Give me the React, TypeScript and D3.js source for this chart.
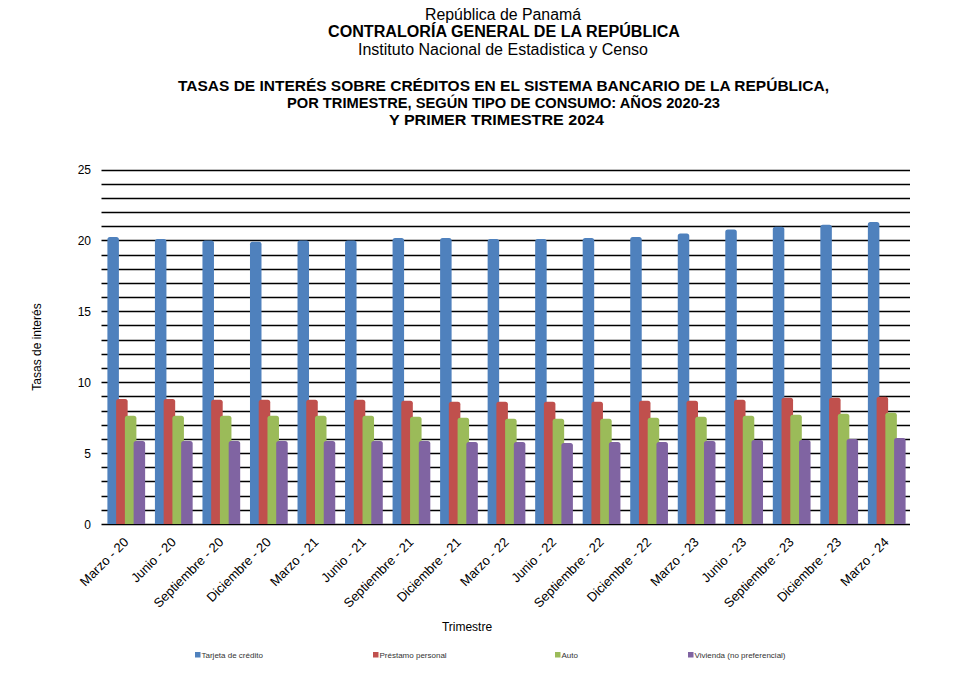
import * as d3 from 'd3';

const categories = [
  'Marzo - 20', 'Junio - 20', 'Septiembre - 20', 'Diciembre - 20',
  'Marzo - 21', 'Junio - 21', 'Septiembre - 21', 'Diciembre - 21',
  'Marzo - 22', 'Junio - 22', 'Septiembre - 22', 'Diciembre - 22',
  'Marzo - 23', 'Junio - 23', 'Septiembre - 23', 'Diciembre - 23',
  'Marzo - 24',
];

const tarjeta = [20.24, 20.1, 20.0, 19.9, 20.0, 20.0, 20.17, 20.17, 20.1, 20.1, 20.17, 20.24, 20.48, 20.76, 20.97, 21.1, 21.3];
const prestamo = [8.82, 8.82, 8.76, 8.76, 8.76, 8.76, 8.69, 8.62, 8.62, 8.62, 8.62, 8.69, 8.69, 8.76, 8.9, 8.9, 8.97];
const auto = [7.63, 7.63, 7.63, 7.63, 7.63, 7.63, 7.56, 7.49, 7.42, 7.42, 7.42, 7.49, 7.56, 7.63, 7.7, 7.77, 7.84];
const vivienda = [5.86, 5.86, 5.86, 5.86, 5.86, 5.86, 5.86, 5.79, 5.79, 5.72, 5.79, 5.79, 5.86, 5.93, 5.93, 6.0, 6.07];

const seriesNames = ['Tarjeta de crédito', 'Préstamo personal', 'Auto', 'Vivienda (no preferencial)'];
const seriesColors = ['#4F81BD', '#C0504D', '#9BBB59', '#8064A2'];
const seriesValues = [tarjeta, prestamo, auto, vivienda];

const yTicks = [0, 5, 10, 15, 20, 25];
const legendX = [195, 373, 555, 688];

const W = 956;
const H = 673;
const FONT = '"Liberation Sans", Arial, sans-serif';

// top-rounded bar
function barPath(x: number, y: number, w: number, y0: number, r: number) {
  return `M${x},${y0}V${y + r}Q${x},${y} ${x + r},${y}H${x + w - r}Q${x + w},${y} ${x + w},${y + r}V${y0}Z`;
}

export default function App() {
  const x = d3.scaleBand<string>()
    .domain(categories)
    .range([102.5, 910.5])
    .paddingInner(0.206)
    .paddingOuter(0.103);

  const y = d3.scaleLinear().domain([0, 25]).range([524, 169.5]);

  const bw = x.bandwidth();
  const barW = bw * 0.305;
  const step = (bw - barW) / 3;
  const gridVals = d3.range(0, 26);

  return (
    <div style={{ position: 'absolute', left: 0, top: 0, width: W, height: H, background: '#fff' }}>
      <svg width={W} height={H} style={{ display: 'block', fontFamily: FONT }}>
        {/* header */}
        <g fill="#000" textAnchor="middle">
          <text x={503} y={20} fontSize={16} textLength={156} lengthAdjust="spacingAndGlyphs">República de Panamá</text>
          <text x={504} y={37} fontSize={16} fontWeight="bold" textLength={352} lengthAdjust="spacingAndGlyphs">CONTRALORÍA GENERAL DE LA REPÚBLICA</text>
          <text x={503} y={55} fontSize={16} textLength={290} lengthAdjust="spacingAndGlyphs">Instituto  Nacional de Estadistica y Censo</text>
          <text x={503.5} y={91} fontSize={14} fontWeight="bold" textLength={651} lengthAdjust="spacingAndGlyphs">TASAS  DE  INTERÉS  SOBRE  CRÉDITOS  EN  EL  SISTEMA  BANCARIO DE LA REPÚBLICA,</text>
          <text x={503.5} y={108} fontSize={14} fontWeight="bold" textLength={433} lengthAdjust="spacingAndGlyphs">POR TRIMESTRE, SEGÚN TIPO DE CONSUMO: AÑOS 2020-23</text>
          <text x={496.5} y={125} fontSize={14} fontWeight="bold" textLength={215} lengthAdjust="spacingAndGlyphs">Y PRIMER TRIMESTRE 2024</text>
        </g>

        {/* gridlines every unit */}
        <g stroke="#000" strokeWidth={1.3}>
          {gridVals.map(v => (
            <line key={v} x1={101.5} x2={910} y1={Math.round(y(v)) + 0.5} y2={Math.round(y(v)) + 0.5} />
          ))}
        </g>

        {/* y tick labels */}
        <g fontSize={12} fill="#000" textAnchor="end">
          {yTicks.map(v => (
            <text key={v} x={91} y={y(v) + 4.5}>{v}</text>
          ))}
        </g>

        {/* bars */}
        {categories.map((c, ci) => (
          <g key={c}>
            {seriesValues.map((vals, si) => {
              const bx = (x(c) as number) + si * step;
              return (
                <path key={si} d={barPath(bx, y(vals[ci]), barW, y(0), 2.5)} fill={seriesColors[si]} />
              );
            })}
          </g>
        ))}

        {/* x labels */}
        <g fontSize={13} fill="#000" textAnchor="end">
          {categories.map(c => {
            const cx = (x(c) as number) + bw / 2 + 3;
            return (
              <text key={c} transform={`translate(${cx},543) rotate(-45)`}>{c}</text>
            );
          })}
        </g>

        {/* axis titles */}
        <text x={467} y={631} fontSize={12} textAnchor="middle" fill="#000">Trimestre</text>
        <text transform="translate(41,347) rotate(-90)" fontSize={12} textAnchor="middle" fill="#000">Tasas de interés</text>

        {/* legend */}
        <g fontSize={8} fill="#333">
          {seriesNames.map((n, i) => (
            <g key={n} transform={`translate(${legendX[i]},652)`}>
              <rect x={0} y={0} width={5.5} height={5.5} fill={seriesColors[i]} />
              <text x={6.5} y={6}>{n}</text>
            </g>
          ))}
        </g>
      </svg>
    </div>
  );
}
